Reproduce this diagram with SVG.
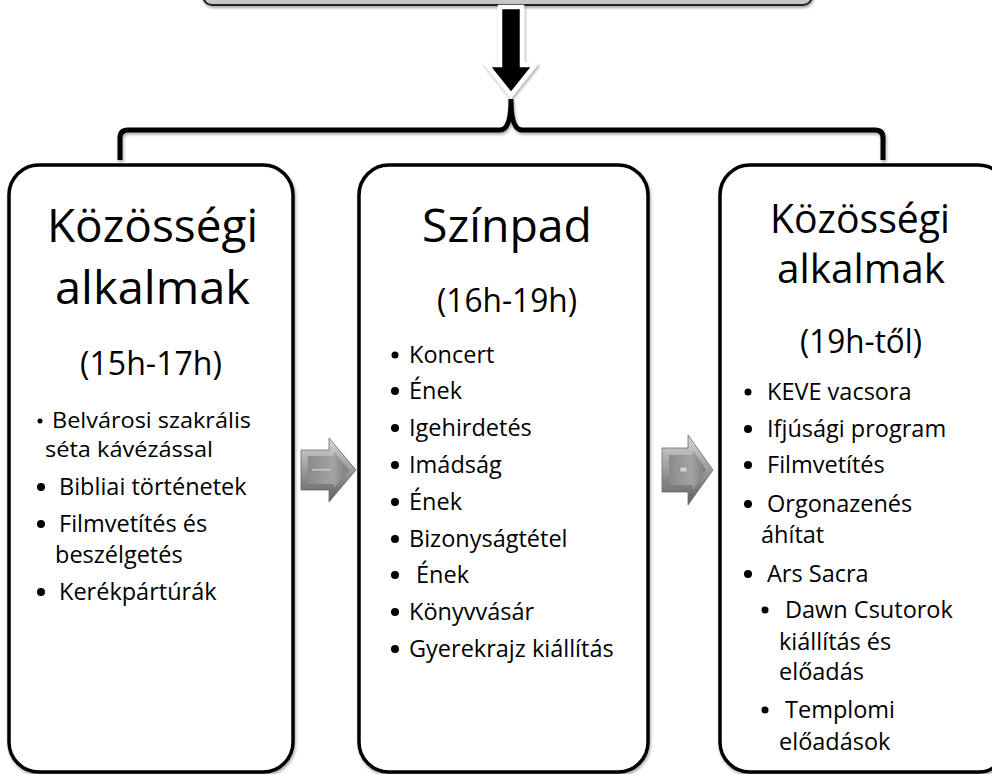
<svg xmlns="http://www.w3.org/2000/svg" width="992" height="774" viewBox="0 0 992 774">
<style>
.box{fill:#fff;stroke:#000;stroke-width:3.5}
.t{font-family:"Open Sans","Liberation Sans",sans-serif;fill:#000}
.title{font-size:46px;text-anchor:middle}
.title2{font-size:40px;text-anchor:middle}
.time{font-size:32px;text-anchor:middle}
.li{font-size:23.5px}
.li2{font-size:21px}
.dot{fill:#000}
</style>
<defs>
<filter id="sh" x="-10%" y="-10%" width="120%" height="120%">
<feDropShadow dx="1" dy="2" stdDeviation="1.5" flood-color="#000" flood-opacity="0.35"/>
</filter>
<linearGradient id="gOuter" x1="0" y1="0" x2="0" y2="1">
<stop offset="0" stop-color="#d8d8d8"/>
<stop offset="0.5" stop-color="#9a9a9a"/>
<stop offset="1" stop-color="#5e5e5e"/>
</linearGradient>
<linearGradient id="gInner" x1="0" y1="0" x2="1" y2="0">
<stop offset="0" stop-color="#8a8a8a"/>
<stop offset="0.6" stop-color="#a4a4a4"/>
<stop offset="1" stop-color="#7a7a7a"/>
</linearGradient>
<linearGradient id="gTop" x1="0" y1="0" x2="0" y2="1">
<stop offset="0" stop-color="#e6e6e6"/>
<stop offset="1" stop-color="#c4c4c4"/>
</linearGradient>
</defs>

<g id="top-box">
<rect x="203" y="-40" width="609" height="45" rx="9" fill="url(#gTop)" stroke="#222" stroke-width="2" filter="url(#sh)"/>
</g>

<g id="connectors">
<polygon points="500,7 522,7 522,65 535,65 511,95 487,65 500,65" fill="#000" stroke="#fff" stroke-width="4.5" stroke-linejoin="miter" filter="url(#sh)"/>
<path d="M120,160 V138 Q120,130 128,130 H500 Q511,130 511,99 Q511,130 522,130 H875 Q883,130 883,138 V160" fill="none" stroke="#000" stroke-width="5" filter="url(#sh)"/>
<g id="arrow-1">
<polygon points="301,450 329,450 329,438 356,470 329,502 329,490 301,490" fill="url(#gOuter)" stroke="#6a6a6a" stroke-width="0.8"/>
<polygon points="308,456 334,456 334,452 349,470 334,488 334,484 308,484" fill="url(#gInner)"/>
<rect x="312" y="469" width="18" height="1.5" fill="#c8c8c8"/>
</g>
<g id="arrow-2">
<polygon points="662,448 688,448 688,435 713,470 688,505 688,492 662,492" fill="url(#gOuter)" stroke="#6a6a6a" stroke-width="0.8"/>
<polygon points="669,455 693,455 693,450 706,470 693,490 693,485 669,485" fill="url(#gInner)"/>
<rect x="680" y="467" width="7" height="5" fill="#d0d0d0" stroke="#888" stroke-width="0.6"/>
</g>
</g>

<g id="box-left">
<rect class="box" x="9" y="165" width="284" height="607" rx="30" filter="url(#sh)"/>
<text class="t title" x="152.5" y="242" textLength="211" lengthAdjust="spacingAndGlyphs">Közösségi</text>
<text class="t title" x="152.5" y="304" textLength="195" lengthAdjust="spacingAndGlyphs">alkalmak</text>
<text class="t time" x="151" y="375" textLength="142" lengthAdjust="spacingAndGlyphs">(15h-17h)</text>
<circle class="dot" cx="40" cy="421" r="2.5"/>
<text class="t li2" x="52" y="428" textLength="199" lengthAdjust="spacingAndGlyphs">Belvárosi szakrális</text>
<text class="t li2" x="45" y="457" textLength="168" lengthAdjust="spacingAndGlyphs">séta kávézással</text>
<circle class="dot" cx="41" cy="487" r="4"/>
<text class="t li" x="59" y="495">Bibliai történetek</text>
<circle class="dot" cx="41" cy="524" r="4"/>
<text class="t li" x="59" y="532">Filmvetítés és</text>
<text class="t li" x="55" y="563">beszélgetés</text>
<circle class="dot" cx="41" cy="592" r="4"/>
<text class="t li" x="59" y="600">Kerékpártúrák</text>
</g>

<g id="box-middle">
<rect class="box" x="359" y="165" width="289" height="607" rx="30" filter="url(#sh)"/>
<text class="t title" x="507" y="242" textLength="170" lengthAdjust="spacingAndGlyphs">Színpad</text>
<text class="t time" x="507" y="312" textLength="140" lengthAdjust="spacingAndGlyphs">(16h-19h)</text>
<circle class="dot" cx="395" cy="355" r="3.5"/>
<text class="t li" x="409" y="363">Koncert</text>
<circle class="dot" cx="395" cy="391" r="4"/>
<text class="t li" x="409" y="399">Ének</text>
<circle class="dot" cx="395" cy="428" r="4"/>
<text class="t li" x="409" y="436">Igehirdetés</text>
<circle class="dot" cx="395" cy="465" r="4"/>
<text class="t li" x="409" y="473">Imádság</text>
<circle class="dot" cx="395" cy="502" r="4"/>
<text class="t li" x="409" y="510">Ének</text>
<circle class="dot" cx="395" cy="539" r="4"/>
<text class="t li" x="409" y="547">Bizonyságtétel</text>
<circle class="dot" cx="395" cy="575" r="4"/>
<text class="t li" x="416" y="583">Ének</text>
<circle class="dot" cx="395" cy="612" r="4"/>
<text class="t li" x="409" y="620">Könyvvásár</text>
<circle class="dot" cx="395" cy="649" r="4"/>
<text class="t li" x="409" y="657">Gyerekrajz kiállítás</text>
</g>

<g id="box-right">
<rect class="box" x="720" y="165" width="288" height="607" rx="30" filter="url(#sh)"/>
<text class="t title2" x="860" y="233" textLength="180" lengthAdjust="spacingAndGlyphs">Közösségi</text>
<text class="t title2" x="861" y="283" textLength="168" lengthAdjust="spacingAndGlyphs">alkalmak</text>
<text class="t time" x="861" y="353" textLength="122" lengthAdjust="spacingAndGlyphs">(19h-től)</text>
<circle class="dot" cx="748" cy="392" r="3.5"/>
<text class="t li" x="767" y="400">KEVE vacsora</text>
<circle class="dot" cx="748" cy="429" r="4"/>
<text class="t li" x="767" y="437">Ifjúsági program</text>
<circle class="dot" cx="748" cy="465" r="4"/>
<text class="t li" x="767" y="473">Filmvetítés</text>
<circle class="dot" cx="748" cy="504" r="4"/>
<text class="t li" x="767" y="512">Orgonazenés</text>
<text class="t li" x="761" y="543">áhítat</text>
<circle class="dot" cx="748" cy="574" r="4"/>
<text class="t li" x="767" y="582">Ars Sacra</text>
<circle class="dot" cx="765" cy="610" r="3.5"/>
<text class="t li" x="785" y="618">Dawn Csutorok</text>
<text class="t li" x="779" y="650">kiállítás és</text>
<text class="t li" x="779" y="680">előadás</text>
<circle class="dot" cx="765" cy="710" r="3.5"/>
<text class="t li" x="785" y="718">Templomi</text>
<text class="t li" x="779" y="750">előadások</text>
</g>
</svg>
